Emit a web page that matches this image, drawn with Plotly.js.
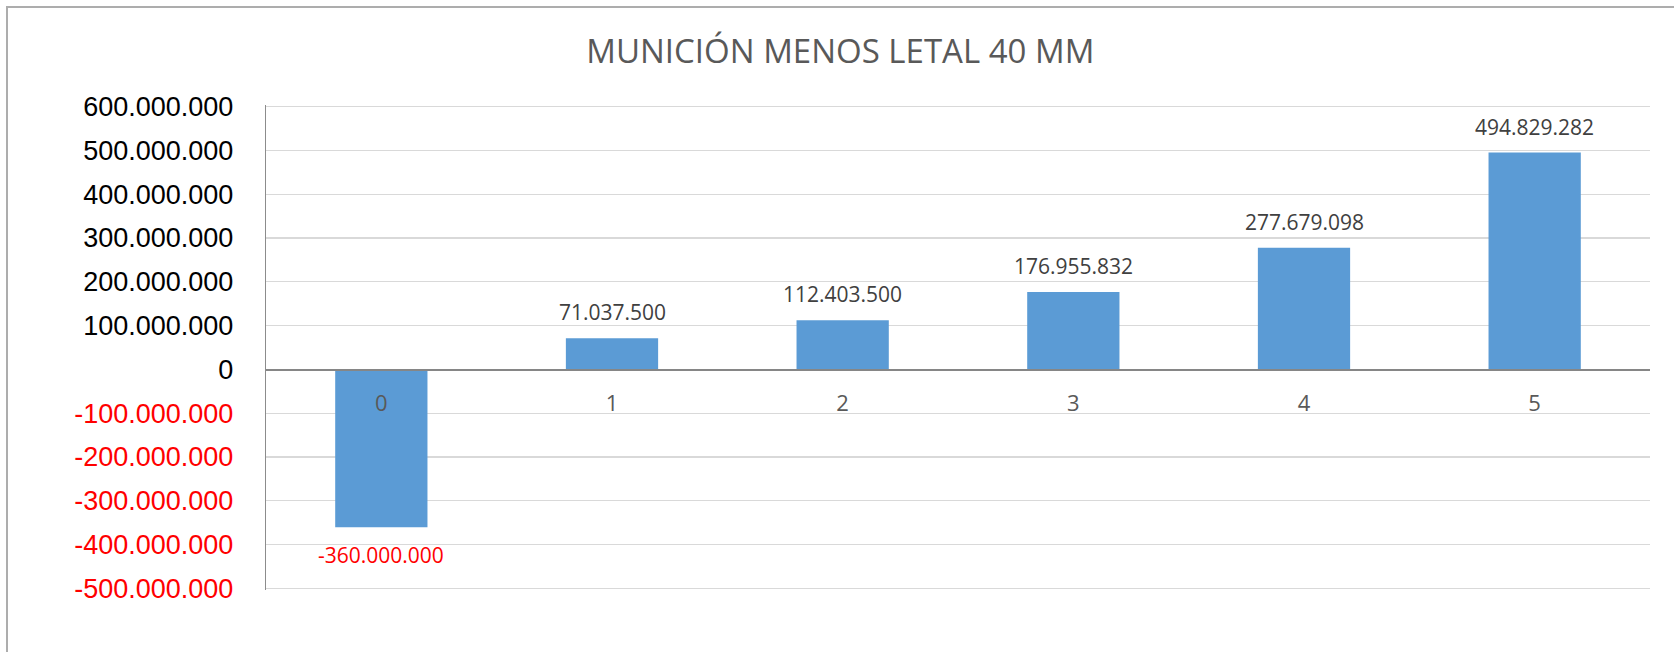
<!DOCTYPE html>
<html>
<head>
<meta charset="utf-8">
<script src="https://cdn.plot.ly/plotly-3.0.1.min.js"></script>
<style>
  html, body { margin: 0; padding: 0; background: #ffffff; }
  #wrap { position: relative; width: 1674px; height: 652px; overflow: hidden; }
  #chart { position: absolute; left: 0; top: 0; width: 1674px; height: 652px; }
  #frame { position: absolute; left: 6px; top: 6px; width: 1700px; height: 700px;
           border-left: 2px solid #adadad; border-top: 2px solid #adadad; pointer-events: none; }
</style>
</head>
<body>
<div id="wrap">
  <div id="chart"></div>
  <div id="frame"></div>
</div>
<script>
// ---- data ----
var categories = ['0', '1', '2', '3', '4', '5'];
var values = [-360000000, 71037500, 112403500, 176955832, 277679098, 494829282];
var yTickValues = [600000000, 500000000, 400000000, 300000000, 200000000, 100000000, 0,
                   -100000000, -200000000, -300000000, -400000000, -500000000];
var yRange = [-503500000, 603500000];
var chartTitle = 'MUNICIÓN MENOS LETAL 40 MM';

function fmt(v) {
  var s = Math.abs(Math.round(v)).toString().replace(/\B(?=(\d{3})+(?!\d))/g, '.');
  return (v < 0 ? '-' : '') + s;
}

var yTickText = yTickValues.map(function (v) {
  return v < 0 ? '<span style="color:#ff0000">' + fmt(v) + '</span>' : fmt(v);
});

var trace = {
  type: 'bar',
  x: categories,
  y: values,
  marker: { color: '#5b9bd5', line: { width: 0 } },
  hoverinfo: 'skip'
};

var annotations = categories.map(function (c, i) {
  var v = values[i];
  return {
    x: c, y: v, xref: 'x', yref: 'y',
    text: fmt(v),
    showarrow: false,
    xanchor: 'center', yanchor: 'middle',
    yshift: v < 0 ? -28 : 26,
    font: { family: 'Open Sans, sans-serif', size: 21, color: v < 0 ? '#ff0000' : '#404040' }
  };
});

var layout = {
  width: 1674,
  height: 652,
  margin: { l: 266, r: 24, t: 104.5, b: 61.5 },
  paper_bgcolor: '#ffffff',
  plot_bgcolor: '#ffffff',
  separators: ',.',
  showlegend: false,
  bargap: 0.6,
  title: {
    text: chartTitle,
    font: { family: 'Open Sans, sans-serif', size: 33, color: '#595959' },
    xref: 'container', x: 0.502, xanchor: 'center',
    yref: 'container', y: 1 - 51 / 652, yanchor: 'middle'
  },
  xaxis: {
    type: 'category',
    anchor: 'free',
    position: (0 - yRange[0]) / (yRange[1] - yRange[0]),
    showline: true,
    linecolor: '#868686',
    linewidth: 1.5,
    showgrid: false,
    zeroline: false,
    ticks: '',
    ticklabelstandoff: 14,
    tickfont: { family: 'Open Sans, sans-serif', size: 22, color: '#595959' }
  },
  yaxis: {
    range: yRange,
    tickvals: yTickValues,
    ticktext: yTickText,
    showgrid: true,
    gridcolor: '#d9d9d9',
    gridwidth: 1.3,
    zeroline: true,
    zerolinecolor: '#868686',
    zerolinewidth: 1.5,
    showline: true,
    linecolor: '#8c8c8c',
    linewidth: 1.3,
    ticks: '',
    ticklabelstandoff: 26,
    tickfont: { family: 'Liberation Sans, Arial, sans-serif', size: 27, color: '#000000' }
  },
  annotations: annotations
};

Plotly.newPlot('chart', [trace], layout, { staticPlot: true, displayModeBar: false });
</script>
</body>
</html>
